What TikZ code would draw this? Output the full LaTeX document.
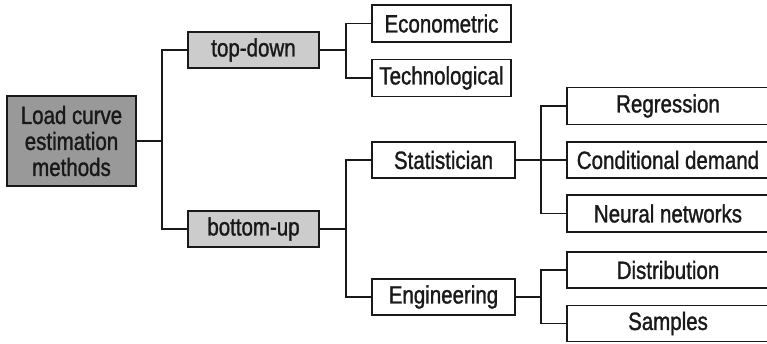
\documentclass[tikz,border=0pt]{standalone}
\usepackage{fontspec}
\setmainfont[FakeStretch=0.82,FakeBold=1.2]{Liberation Sans}
\definecolor{rootgray}{HTML}{999999}
\definecolor{levelgray}{HTML}{CCCCCC}

\begin{document}
\begin{tikzpicture}[x=1pt, y=-1pt,
    box/.style={draw=black!90, line width=1.5pt, rectangle, inner sep=0pt, text=black!90, font=\fontsize{25}{26}\selectfont},
    branch/.style={draw=black!90, line width=1.5pt},
    stem/.style={draw=black!90, line width=2.7pt}]
  \useasboundingbox (0,0) rectangle (767,343);
  % root and first level
  \node [box, fill=rootgray, minimum width=129pt, minimum height=90pt, align=center] (root) at (71.5,141) {Load curve\\estimation\\methods};
  \node [box, fill=levelgray, minimum width=131pt, minimum height=36pt] (topdown) at (253.5,50) {top-down};
  \node [box, fill=levelgray, minimum width=131pt, minimum height=36pt] (bottomup) at (253.5,229) {bottom-up};
  % second level
  \node [box, fill=white, minimum width=139pt, minimum height=37pt] (econ) at (441.5,23.5) {Econometric};
  \node [box, fill=white, minimum width=139pt, minimum height=37pt] (techn) at (441.5,78) {Technological};
  \node [box, fill=white, minimum width=143pt, minimum height=36pt] (stat) at (443.5,160) {Statistician};
  \node [box, fill=white, minimum width=143pt, minimum height=36pt] (engin) at (443.5,297) {Engineering};
  % leaves
  \node [box, fill=white, minimum width=202pt, minimum height=37pt] (regr) at (668,106) {Regression};
  \node [box, fill=white, minimum width=202pt, minimum height=36pt] (cond) at (668,160) {Conditional demand};
  \node [box, fill=white, minimum width=202pt, minimum height=37pt] (neural) at (668,213.5) {Neural networks};
  \node [box, fill=white, minimum width=202pt, minimum height=36pt] (distr) at (668,270) {Distribution};
  \node [box, fill=white, minimum width=202pt, minimum height=36pt] (sampl) at (668,323.5) {Samples};

  % forks
  \coordinate (froot) at (162,141);
  \coordinate (ftd) at (346,50);
  \coordinate (fbu) at (346,229);
  \coordinate (fstat) at (541,160);
  \coordinate (fengin) at (541,297);

  \draw [stem] (root.east) -- (froot);
  \draw [branch] (froot) |- (topdown.west);
  \draw [branch] (froot) |- (bottomup.west);

  \draw [stem] (topdown.east) -- (ftd);
  \draw [branch] (ftd) |- (econ.west);
  \draw [branch] (ftd) |- (techn.west);

  \draw [stem] (bottomup.east) -- (fbu);
  \draw [branch] (fbu) |- (stat.west);
  \draw [branch] (fbu) |- (engin.west);

  \draw [stem] (stat.east) -- (fstat);
  \draw [branch] (fstat) |- (regr.west);
  \draw [branch] (fstat) -- (cond.west);
  \draw [branch] (fstat) |- (neural.west);

  \draw [stem] (engin.east) -- (fengin);
  \draw [branch] (fengin) |- (distr.west);
  \draw [branch] (fengin) |- (sampl.west);
\end{tikzpicture}
\end{document}
